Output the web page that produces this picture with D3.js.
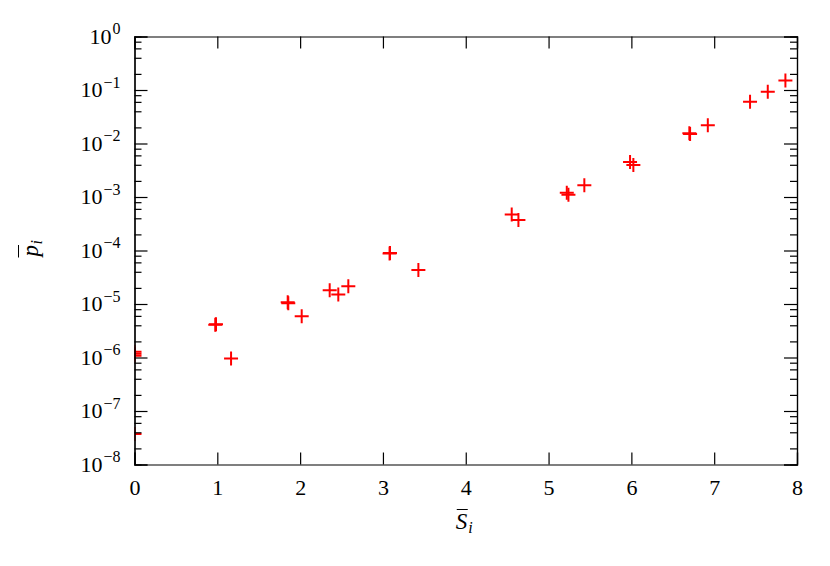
<!DOCTYPE html>
<html>
<head>
<meta charset="utf-8">
<script src="https://cdn.jsdelivr.net/npm/d3@7"></script>
<style>
  body { margin: 0; background: #fff; }
  svg { display: block; }
  .axis path, .axis line { stroke: #000; stroke-width: 1.2; }
  .axis text { font-family: "Liberation Serif", serif; fill: #000; }
</style>
</head>
<body>
<div id="chart"></div>
<script>
// values (mean score vs mean probability)
var sVals = [0, 0, 0, 0,
  0.984, 0.975, 1.166, 1.857, 1.85, 2.019, 2.357, 2.461, 2.582,
  3.085, 3.08, 3.428, 4.555, 4.636, 5.22, 5.24, 5.432,
  5.984, 6.024, 6.709, 6.70, 6.923, 7.433, 7.647, 7.86];
var pVals = [1.28e-6, 1.18e-6, 1.08e-6, 3.7e-8,
  4.2e-6, 4.1e-6, 9.6e-7, 1.03e-5, 1.08e-5, 5.9e-6, 1.8e-5, 1.5e-5, 2.15e-5,
  9.0e-5, 8.8e-5, 4.3e-5, 4.7e-4, 3.7e-4, 1.2e-3, 1.1e-3, 1.65e-3,
  4.5e-3, 3.95e-3, 1.5e-2, 1.55e-2, 2.2e-2, 6.0e-2, 9.3e-2, 0.15];
var xTicks = [0, 1, 2, 3, 4, 5, 6, 7, 8];
var yExps = [0, -1, -2, -3, -4, -5, -6, -7, -8];
var minorMults = [2, 4, 6, 8];

var data = sVals.map(function(s, i) { return {s: s, p: pVals[i]}; });

var W = 830, H = 566;
var margin = {top: 36.5, right: 33, bottom: 101.5, left: 134.5};
var width = W - margin.left - margin.right;
var height = H - margin.top - margin.bottom;

var svg = d3.select("#chart").append("svg")
    .attr("width", W)
    .attr("height", H)
  .append("g")
    .attr("transform", "translate(" + margin.left + "," + margin.top + ")");

var x = d3.scaleLinear().domain([0, 8]).range([0, width]);
var y = d3.scaleLog().domain([1e-8, 1]).range([height, 0]);

var majors = yExps.map(function(e) { return Math.pow(10, e); });
var minors = [];
yExps.slice(0, -1).forEach(function(e) {
  minorMults.forEach(function(m) { minors.push(m * Math.pow(10, e - 1)); });
});

// clip so markers on the axis get cut
svg.append("clipPath").attr("id", "clip")
  .append("rect").attr("width", width).attr("height", height);

// points
svg.append("g").attr("clip-path", "url(#clip)")
  .selectAll(".pt")
  .data(data)
  .enter()
  .append("path")
  .attr("class", "pt")
  .attr("d", "M-7,0H7M0,-7V7")
  .attr("transform", function(d) { return "translate(" + x(d.s) + "," + y(d.p) + ")"; })
  .style("stroke", "#ff0000")
  .style("stroke-width", 2)
  .style("fill", "none");

// axes, ticks point inward
svg.append("g").attr("class", "axis")
  .attr("transform", "translate(0," + height + ")")
  .call(d3.axisBottom(x).tickValues(xTicks).tickSize(-12).tickPadding(15).tickFormat(d3.format("d")))
  .selectAll("text").style("font-size", "22px");

svg.append("g").attr("class", "axis")
  .call(d3.axisTop(x).tickValues(xTicks).tickSize(-12).tickFormat(""));

var yl = svg.append("g").attr("class", "axis")
  .call(d3.axisLeft(y).tickValues(majors).tickSize(-13).tickPadding(14).tickFormat(""));

yl.selectAll(".tick text").each(function(d) {
  var t = d3.select(this).style("font-size", "22px").attr("dy", "0.3em");
  var e = Math.round(Math.log10(d));
  t.append("tspan").text("10");
  t.append("tspan").attr("dx", 1).attr("dy", -9.5).style("font-size", "16px")
    .text(e === 0 ? "0" : "\u2212" + Math.abs(e));
});

svg.append("g").attr("class", "axis")
  .call(d3.axisLeft(y).tickValues(minors).tickSize(-7).tickFormat(""));

svg.append("g").attr("class", "axis")
  .attr("transform", "translate(" + width + ",0)")
  .call(d3.axisRight(y).tickValues(majors).tickSize(-13).tickFormat(""));

svg.append("g").attr("class", "axis")
  .attr("transform", "translate(" + width + ",0)")
  .call(d3.axisRight(y).tickValues(minors).tickSize(-7).tickFormat(""));

svg.selectAll(".axis .domain").style("fill", "none");

// axis titles with an overline drawn over the main letter
function overLabel(g, letter, sub) {
  var main = g.append("text")
    .attr("x", 0).attr("y", 0)
    .style("font-family", "'Liberation Serif', serif")
    .style("font-style", "italic")
    .style("font-size", "23px")
    .text(letter);
  var bb = main.node().getBBox();
  g.append("text")
    .attr("x", bb.x + bb.width + 0.5).attr("y", 4)
    .style("font-family", "'Liberation Serif', serif")
    .style("font-style", "italic")
    .style("font-size", "16px")
    .text(sub);
  g.append("line")
    .attr("x1", bb.x + 1).attr("x2", bb.x + bb.width)
    .attr("y1", bb.y + 1).attr("y2", bb.y + 1)
    .style("stroke", "#000").style("stroke-width", 1);
}

var xt = svg.append("g")
  .attr("transform", "translate(" + (width / 2 - 10) + "," + (height + 64) + ")");
overLabel(xt, "S", "i");

var yt = svg.append("g")
  .attr("transform", "translate(" + (-97) + "," + (height / 2 + 6) + ") rotate(-90)");
overLabel(yt, "p", "i");
</script>
</body>
</html>
